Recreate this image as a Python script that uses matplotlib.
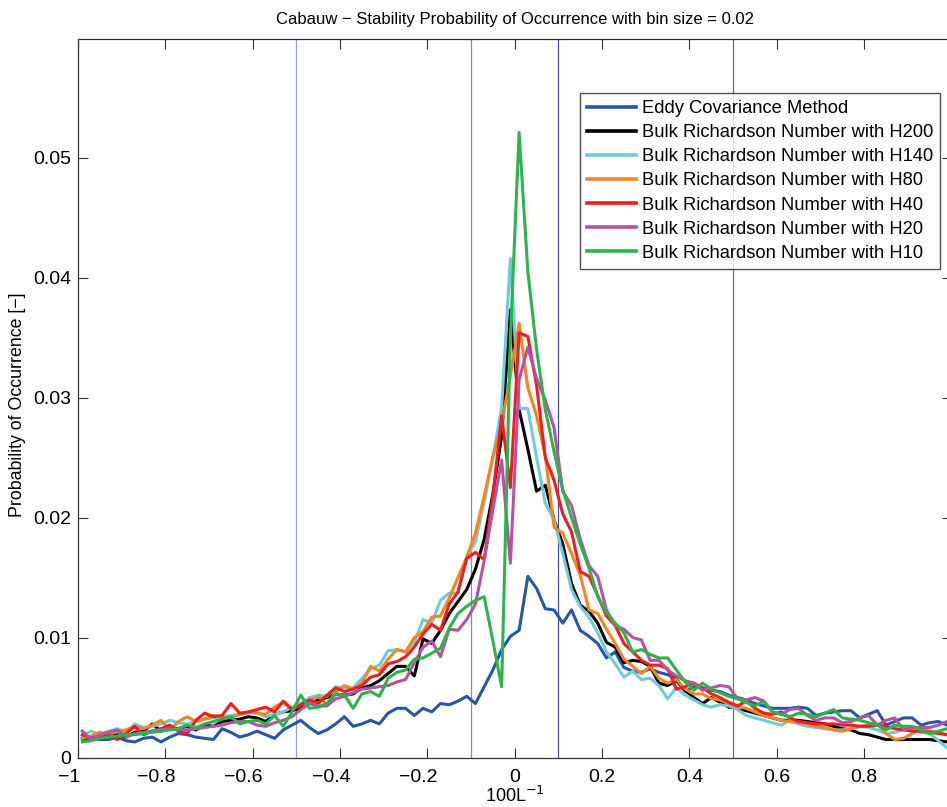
import numpy as np
import matplotlib
matplotlib.use("Agg")
import matplotlib.pyplot as plt
from matplotlib.transforms import ScaledTranslation

plt.rcParams['font.family'] = ['Liberation Sans', 'DejaVu Sans']

# bin centres of the stability histogram (bin size 0.02 on 100/L)
bin_size = 0.02
bins = np.linspace(-1 + bin_size / 2, 1 - bin_size / 2, 100)

eddy = [0.0015, 0.0016, 0.0015, 0.0015, 0.0017, 0.0014, 0.0013, 0.0016, 0.0017, 0.0013,
        0.0017, 0.0020, 0.0019, 0.0017, 0.0016, 0.0015, 0.0024, 0.0021, 0.0017, 0.0019,
        0.0022, 0.0019, 0.0016, 0.0023, 0.0027, 0.0031, 0.0025, 0.0020, 0.0023, 0.0028,
        0.0034, 0.0026, 0.0028, 0.0031, 0.0028, 0.0037, 0.0041, 0.0041, 0.0035, 0.0041,
        0.0038, 0.0045, 0.0044, 0.0047, 0.0051, 0.0045, 0.0059, 0.0073, 0.0090, 0.0101,
        0.0106, 0.0151, 0.0141, 0.0124, 0.0123, 0.0112, 0.0123, 0.0106, 0.0101, 0.0095,
        0.0083, 0.0088, 0.0075, 0.0072, 0.0071, 0.0074, 0.0071, 0.0069, 0.0066, 0.0055,
        0.0059, 0.0058, 0.0056, 0.0055, 0.0052, 0.0050, 0.0048, 0.0045, 0.0043, 0.0041,
        0.0041, 0.0041, 0.0042, 0.0041, 0.0035, 0.0037, 0.0038, 0.0039, 0.0039, 0.0033,
        0.0036, 0.0039, 0.0027, 0.0030, 0.0033, 0.0033, 0.0027, 0.0029, 0.0030, 0.0027]

h200 = [0.0016, 0.0017, 0.0016, 0.0018, 0.0019, 0.0017, 0.0021, 0.0022, 0.0028, 0.0022,
        0.0025, 0.0024, 0.0026, 0.0023, 0.0027, 0.0026, 0.0030, 0.0031, 0.0032, 0.0034,
        0.0033, 0.0030, 0.0036, 0.0038, 0.0039, 0.0041, 0.0048, 0.0048, 0.0050, 0.0053,
        0.0052, 0.0053, 0.0058, 0.0060, 0.0064, 0.0070, 0.0076, 0.0076, 0.0068, 0.0099,
        0.0095, 0.0106, 0.0120, 0.0130, 0.0140, 0.0157, 0.0182, 0.0220, 0.0268, 0.0373,
        0.0290, 0.0257, 0.0222, 0.0227, 0.0198, 0.0178, 0.0145, 0.0127, 0.0122, 0.0112,
        0.0096, 0.0092, 0.0079, 0.0081, 0.0080, 0.0076, 0.0062, 0.0060, 0.0064, 0.0056,
        0.0050, 0.0045, 0.0050, 0.0046, 0.0042, 0.0041, 0.0039, 0.0037, 0.0035, 0.0033,
        0.0031, 0.0031, 0.0031, 0.0030, 0.0029, 0.0028, 0.0026, 0.0024, 0.0023, 0.0020,
        0.0019, 0.0017, 0.0015, 0.0015, 0.0015, 0.0015, 0.0015, 0.0015, 0.0014, 0.0013]

h140 = [0.0018, 0.0022, 0.0019, 0.0022, 0.0024, 0.0021, 0.0028, 0.0025, 0.0026, 0.0028,
        0.0031, 0.0029, 0.0028, 0.0030, 0.0032, 0.0033, 0.0034, 0.0035, 0.0036, 0.0037,
        0.0037, 0.0034, 0.0036, 0.0038, 0.0042, 0.0045, 0.0050, 0.0052, 0.0051, 0.0059,
        0.0058, 0.0058, 0.0066, 0.0074, 0.0077, 0.0089, 0.0090, 0.0088, 0.0096, 0.0115,
        0.0112, 0.0131, 0.0137, 0.0137, 0.0167, 0.0180, 0.0213, 0.0250, 0.0292, 0.0416,
        0.0291, 0.0291, 0.0250, 0.0212, 0.0198, 0.0170, 0.0140, 0.0126, 0.0117, 0.0104,
        0.0088, 0.0078, 0.0067, 0.0072, 0.0065, 0.0066, 0.0060, 0.0049, 0.0058, 0.0052,
        0.0048, 0.0044, 0.0042, 0.0044, 0.0043, 0.0040, 0.0035, 0.0033, 0.0031, 0.0029,
        0.0027, 0.0031, 0.0028, 0.0026, 0.0025, 0.0024, 0.0023, 0.0023, 0.0024, 0.0026,
        0.0025, 0.0023, 0.0020, 0.0021, 0.0023, 0.0023, 0.0021, 0.0020, 0.0014, 0.0008]

h80 = [0.0016, 0.0018, 0.0021, 0.0019, 0.0022, 0.0023, 0.0026, 0.0024, 0.0027, 0.0031,
       0.0023, 0.0030, 0.0034, 0.0030, 0.0032, 0.0035, 0.0034, 0.0033, 0.0036, 0.0038,
       0.0037, 0.0036, 0.0042, 0.0046, 0.0040, 0.0044, 0.0046, 0.0051, 0.0044, 0.0055,
       0.0060, 0.0057, 0.0062, 0.0076, 0.0072, 0.0082, 0.0090, 0.0088, 0.0100, 0.0105,
       0.0117, 0.0118, 0.0133, 0.0150, 0.0167, 0.0187, 0.0218, 0.0251, 0.0278, 0.0318,
       0.0362, 0.0308, 0.0285, 0.0251, 0.0192, 0.0187, 0.0170, 0.0152, 0.0123, 0.0120,
       0.0107, 0.0095, 0.0082, 0.0076, 0.0070, 0.0076, 0.0066, 0.0062, 0.0065, 0.0057,
       0.0053, 0.0053, 0.0049, 0.0048, 0.0045, 0.0042, 0.0041, 0.0038, 0.0035, 0.0033,
       0.0031, 0.0030, 0.0029, 0.0028, 0.0026, 0.0025, 0.0023, 0.0022, 0.0024, 0.0026,
       0.0027, 0.0028, 0.0020, 0.0015, 0.0016, 0.0020, 0.0024, 0.0022, 0.0021, 0.0019]

h40 = [0.0019, 0.0016, 0.0018, 0.0019, 0.0015, 0.0020, 0.0026, 0.0019, 0.0022, 0.0024,
       0.0027, 0.0022, 0.0020, 0.0031, 0.0037, 0.0034, 0.0035, 0.0045, 0.0037, 0.0038,
       0.0040, 0.0042, 0.0038, 0.0047, 0.0040, 0.0044, 0.0048, 0.0045, 0.0052, 0.0058,
       0.0055, 0.0057, 0.0060, 0.0067, 0.0069, 0.0078, 0.0080, 0.0084, 0.0092, 0.0103,
       0.0111, 0.0106, 0.0128, 0.0138, 0.0166, 0.0171, 0.0165, 0.0218, 0.0285, 0.0225,
       0.0354, 0.0351, 0.0310, 0.0250, 0.0231, 0.0203, 0.0188, 0.0155, 0.0151, 0.0135,
       0.0118, 0.0110, 0.0095, 0.0088, 0.0081, 0.0077, 0.0077, 0.0074, 0.0057, 0.0059,
       0.0062, 0.0058, 0.0053, 0.0050, 0.0046, 0.0043, 0.0047, 0.0041, 0.0037, 0.0036,
       0.0038, 0.0033, 0.0030, 0.0029, 0.0028, 0.0028, 0.0028, 0.0027, 0.0027, 0.0026,
       0.0026, 0.0027, 0.0026, 0.0024, 0.0023, 0.0022, 0.0022, 0.0021, 0.0020, 0.0019]

h20 = [0.0022, 0.0015, 0.0019, 0.0021, 0.0023, 0.0017, 0.0020, 0.0021, 0.0022, 0.0023,
       0.0024, 0.0023, 0.0023, 0.0024, 0.0025, 0.0026, 0.0027, 0.0029, 0.0030, 0.0030,
       0.0027, 0.0026, 0.0029, 0.0031, 0.0034, 0.0040, 0.0045, 0.0043, 0.0043, 0.0049,
       0.0051, 0.0054, 0.0057, 0.0058, 0.0059, 0.0060, 0.0063, 0.0065, 0.0079, 0.0092,
       0.0097, 0.0084, 0.0107, 0.0106, 0.0115, 0.0128, 0.0164, 0.0207, 0.0248, 0.0162,
       0.0315, 0.0342, 0.0316, 0.0298, 0.0275, 0.0222, 0.0210, 0.0182, 0.0160, 0.0151,
       0.0123, 0.0110, 0.0107, 0.0100, 0.0098, 0.0081, 0.0081, 0.0073, 0.0068, 0.0064,
       0.0062, 0.0056, 0.0058, 0.0060, 0.0059, 0.0049, 0.0048, 0.0050, 0.0047, 0.0038,
       0.0036, 0.0040, 0.0041, 0.0035, 0.0031, 0.0033, 0.0033, 0.0029, 0.0030, 0.0033,
       0.0035, 0.0027, 0.0031, 0.0033, 0.0023, 0.0025, 0.0025, 0.0025, 0.0027, 0.0030]

h10 = [0.0013, 0.0014, 0.0016, 0.0017, 0.0018, 0.0019, 0.0019, 0.0020, 0.0021, 0.0022,
       0.0023, 0.0024, 0.0027, 0.0025, 0.0028, 0.0030, 0.0032, 0.0034, 0.0028, 0.0030,
       0.0031, 0.0028, 0.0035, 0.0026, 0.0038, 0.0052, 0.0041, 0.0042, 0.0045, 0.0053,
       0.0052, 0.0041, 0.0053, 0.0055, 0.0051, 0.0066, 0.0071, 0.0073, 0.0082, 0.0083,
       0.0087, 0.0091, 0.0108, 0.0120, 0.0126, 0.0131, 0.0134, 0.0097, 0.0059, 0.0350,
       0.0521, 0.0405, 0.0340, 0.0290, 0.0255, 0.0223, 0.0200, 0.0178, 0.0158, 0.0134,
       0.0121, 0.0112, 0.0104, 0.0088, 0.0090, 0.0086, 0.0083, 0.0083, 0.0073, 0.0063,
       0.0056, 0.0062, 0.0057, 0.0054, 0.0051, 0.0049, 0.0046, 0.0043, 0.0047, 0.0038,
       0.0036, 0.0034, 0.0037, 0.0036, 0.0034, 0.0037, 0.0040, 0.0033, 0.0032, 0.0031,
       0.0029, 0.0027, 0.0023, 0.0027, 0.0026, 0.0026, 0.0023, 0.0020, 0.0022, 0.0024]

series = [eddy, h200, h140, h80, h40, h20, h10]
labels = ["Eddy Covariance Method",
          "Bulk Richardson Number with H200",
          "Bulk Richardson Number with H140",
          "Bulk Richardson Number with H80",
          "Bulk Richardson Number with H40",
          "Bulk Richardson Number with H20",
          "Bulk Richardson Number with H10"]
colors = ["#2656a8", "#000000", "#6ccbdd", "#f7841f", "#ee1d24", "#b552a5", "#2cb34a"]

# stability class boundaries
bounds = [-0.5, -0.1, 0.1, 0.5]
bound_colors = ["#8ea6da", "#7d8ec8", "#4252a6", "#6f6c9e"]

xtick_vals = [-1, -0.8, -0.6, -0.4, -0.2, 0, 0.2, 0.4, 0.6, 0.8]
xtick_labels = ["\u22121", "\u22120.8", "\u22120.6", "\u22120.4", "\u22120.2",
                "0", "0.2", "0.4", "0.6", "0.8"]
ytick_vals = [0, 0.01, 0.02, 0.03, 0.04, 0.05]
ytick_labels = ["0", "0.01", "0.02", "0.03", "0.04", "0.05"]

fig = plt.figure(figsize=(9.47, 8.07), dpi=100)
ax = fig.add_axes([78 / 947, (807 - 757.5) / 807, 873.5 / 947, 718.5 / 807])

for xb, c in zip(bounds, bound_colors):
    ax.axvline(xb, color=c, lw=0.9, zorder=1)

for y, lab, c in zip(series, labels, colors):
    ax.plot(bins, y, color=c, lw=2.2, label=lab, zorder=2)

ax.set_xlim(-1, 1)
ax.set_ylim(0, 0.0599)
ax.set_xticks(xtick_vals)
ax.set_xticklabels(xtick_labels)
ax.set_yticks(ytick_vals)
ax.set_yticklabels(ytick_labels)
ax.tick_params(direction="in", length=7, width=0.8, top=True, right=True,
               labelsize=14, color="#333333")
ax.tick_params(axis="x", pad=8)
ax.tick_params(axis="y", pad=5)
for sp in ax.spines.values():
    sp.set_linewidth(0.9)
    sp.set_color("#333333")

# negative labels sit a little left of their ticks
shift = ScaledTranslation(-9 / 100, 0, fig.dpi_scale_trans)
for v, t in zip(xtick_vals, ax.get_xticklabels()):
    if v < 0:
        t.set_transform(t.get_transform() + shift)

ax.set_title("Cabauw \u2212 Stability Probability of Occurrence with bin size = 0.02",
             fontsize=12, pad=11)
ax.set_xlabel("100L$^{-1}$", fontsize=13, labelpad=0)
ax.set_ylabel("Probability of Occurrence [\u2212]", fontsize=12.8)
ax.yaxis.set_label_coords(-0.059, 0.491)

leg = ax.legend(loc="upper right", bbox_to_anchor=(0.9868, 0.9248), fontsize=13.2,
                frameon=True, fancybox=False, edgecolor="#222222",
                handlelength=2.7, handletextpad=0.3, labelspacing=0.39,
                borderpad=0.38, borderaxespad=0)
leg.get_frame().set_linewidth(1.0)
for line in leg.get_lines():
    line.set_linewidth(2.6)

fig.savefig("out.png", dpi=100)
